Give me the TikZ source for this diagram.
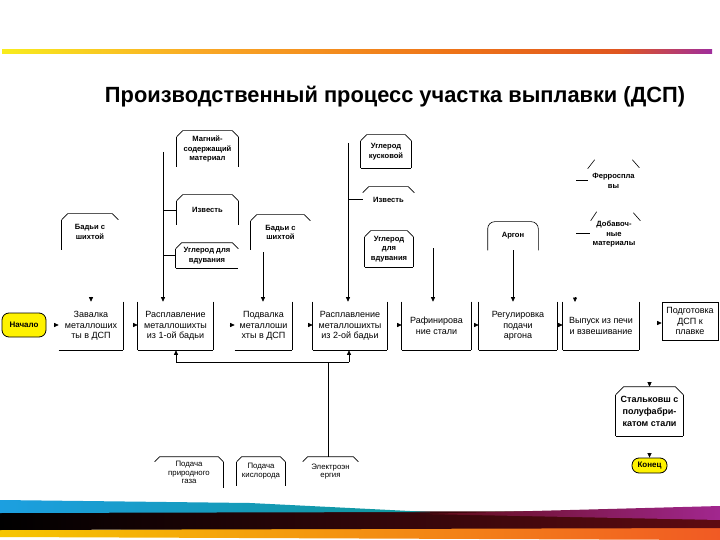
\documentclass[tikz,border=0pt]{standalone}
\usepackage{graphicx}
\usepackage{fontspec}
\setmainfont{Liberation Sans}
\usetikzlibrary{calc,arrows.meta}
\definecolor{tyel}{HTML}{FFF200}
\definecolor{gA}{HTML}{F8EC1E}
\definecolor{gB}{HTML}{F9A825}
\definecolor{gC}{HTML}{EE7418}
\definecolor{gD}{HTML}{E0561F}
\definecolor{gE}{HTML}{9F2D9C}
\definecolor{bBlue}{HTML}{1C9FE0}
\definecolor{bTeal}{HTML}{10979A}
\definecolor{bMar}{HTML}{5E0B12}
\definecolor{bPur}{HTML}{A2278F}
\definecolor{bYel}{HTML}{F6C600}
\definecolor{bOr}{HTML}{F15A24}
% helpers: box node from pixel extents
\newcommand\bx[7]{\node[#1, minimum width={#5-#3}, minimum height={#6-#4}] (#2) at ({(#3+#5)/2},{(#4+#6)/2}) {#7};}
\newcommand\TopC[2]{\draw ($(#1.north west)+(0,#2)$) -- ($(#1.north west)+(#2,0)$) -- ($(#1.north east)+(-#2,0)$) -- ($(#1.north east)+(0,#2)$);}
\newcommand\LeftC[2]{\draw ($(#1.north west)+(0,#2)$) -- (#1.south west);}
\newcommand\RightC[2]{\draw ($(#1.north east)+(0,#2)$) -- (#1.south east);}
\newcommand\BotS[1]{\draw (#1.south west) -- (#1.south east);}
\newcommand\PL[1]{\draw (#1.north west) -- (#1.south west);}
\newcommand\PR[1]{\draw (#1.north east) -- (#1.south east);}
\newcommand\HeadL[1]{\draw[arr] ($(#1.west)+(-5,-1)$) -- ($(#1.west)+(0,-1)$);}
\begin{document}
\begin{tikzpicture}[x=1pt,y=-1pt,line width=0.6pt,
  arr/.style={-{Triangle[length=4.5pt,width=4pt]}},
  proc/.style={inner sep=0pt,align=center,font=\fontsize{9}{10.5}\selectfont},
  mat/.style={inner sep=0pt,align=center,font=\bfseries\fontsize{7.6}{9.5}\selectfont},
  matr/.style={inner sep=0pt,align=center,font=\fontsize{7.8}{8.8}\selectfont},
  term/.style={draw,line width=0.8pt,fill=tyel,rounded corners=7pt,inner sep=0pt,align=center,font=\bfseries\fontsize{8}{9}\selectfont}]
\useasboundingbox (0,0) rectangle (720,540);
\fill[white] (0,0) rectangle (720,540);
% top gradient line
\shade[left color=gA,right color=gB] (2,50) rectangle (200,54);
\shade[left color=gB,right color=gC] (200,50) rectangle (450,54);
\shade[left color=gC,right color=gD] (450,50) rectangle (620,54);
\shade[left color=gD,right color=gE] (620,50) rectangle (712,54);
% title
\node[anchor=base,inner sep=0pt] (title) at (395,103) {\resizebox{580pt}{\height}{\bfseries\fontsize{22}{24}\selectfont Производственный процесс участка выплавки (ДСП)}};
% bottom band
\shade[left color=bYel,right color=bOr] (0,530) -- (720,527) -- (720,540) -- (0,537) -- cycle;
\shade[left color=black,middle color=black!95!bMar,right color=bMar] (0,512) -- (720,511) -- (720,528) -- (0,530) -- cycle;
\shade[left color=bBlue,right color=bTeal] (0,500) -- (250,503) -- (430,512) -- (0,513) -- cycle;
\shade[left color=bMar,right color=bPur] (420,514) -- (720,506) -- (720,520) -- cycle;
% terminals
\bx{term}{st}{2}{313}{46}{337}{Начало}
\bx{term}{ko}{632}{458}{667}{473}{Конец}
% process boxes
\bx{proc}{zv}{59}{302}{123}{350}{Завалка\\металлоших\\ты в ДСП}
\bx{proc}{r1}{138}{302}{213}{350}{Расплавление\\металлошихты\\из 1-ой бадьи}
\bx{proc}{pd}{235}{302}{292}{350}{Подвалка\\металлоши\\хты в ДСП}
\bx{proc}{r2}{313}{302}{387}{350}{Расплавление\\металлошихты\\из 2-ой бадьи}
\bx{proc}{rf}{402}{302}{471}{350}{Рафинирова\\ние стали}
\bx{proc}{rg}{479}{302}{557}{350}{Регулировка\\подачи\\аргона}
\bx{proc}{vy}{563}{302}{639}{350}{Выпуск из печи\\и взвешивание}
\bx{proc,draw}{pg}{662}{302}{718}{340}{Подготовка\\ДСП к\\плавке}
\PR{zv}\BotS{zv}
\PL{r1}\PR{r1}\BotS{r1}
\PR{pd}\BotS{pd}
\PL{r2}\PR{r2}\BotS{r2}
\PL{rf}\PR{rf}\BotS{rf}
\PL{rg}\PR{rg}\BotS{rg}
\PL{vy}\PR{vy}\BotS{vy}
% input materials
\bx{mat}{mg}{177}{131}{238}{167}{Магний-\\содержащий\\материал}
\TopC{mg}{6}\LeftC{mg}{6}\RightC{mg}{6}
\bx{mat}{iz1}{177}{195}{238}{225}{Известь}
\TopC{iz1}{6}\LeftC{iz1}{6}\RightC{iz1}{6}
\bx{mat}{ug1}{176}{243}{238}{268}{Углерод для\\вдувания}
\TopC{ug1}{6}\LeftC{ug1}{6}\BotS{ug1}
\bx{mat}{b1}{62}{214}{118}{250}{Бадьи с\\шихтой}
\TopC{b1}{6}\LeftC{b1}{6}
\bx{mat}{b2}{251}{215}{310}{250}{Бадьи с\\шихтой}
\TopC{b2}{6}\LeftC{b2}{6}
\bx{mat}{uk}{361}{135}{411}{168}{Углерод\\кусковой}
\TopC{uk}{6}\LeftC{uk}{6}\RightC{uk}{6}\BotS{uk}
\bx{mat}{iz2}{363}{187}{414}{212}{Известь}
\TopC{iz2}{6}
\bx{mat}{ug2}{365}{231}{413}{267}{Углерод\\для\\вдувания}
\TopC{ug2}{6}\LeftC{ug2}{6}\RightC{ug2}{6}\BotS{ug2}
\bx{mat}{ar}{488}{222}{538}{250}{Аргон}
\draw[rounded corners=7pt] (ar.south west) -- (ar.north west) -- (ar.north east) -- (ar.south east);
\bx{mat}{fe}{588}{160}{639}{202}{Ферроспла\\вы}
\draw ($(fe.north west)+(0,9)$) -- ($(fe.north west)+(7,0)$);
\draw ($(fe.north east)+(-7,0)$) -- ($(fe.north east)+(0,8)$);
\bx{mat}{do}{588}{212}{640}{257}{Добавоч-\\ные\\материалы}
\draw ($(do.north west)+(3,9)$) -- ($(do.north west)+(9,0)$);
\draw ($(do.north east)+(-7,1)$) -- ($(do.north east)+(0,9)$);
\bx{mat,font=\bfseries\fontsize{9}{12}\selectfont}{sk}{616}{387}{683}{436}{Стальковш с\\полуфабри-\\катом стали}
\TopC{sk}{8}\LeftC{sk}{8}\RightC{sk}{8}\BotS{sk}
\bx{matr}{gz}{155}{457}{223}{488}{Подача\\природного\\газа}
\TopC{gz}{5}\RightC{gz}{5}
\bx{matr}{ks}{237}{457}{285}{486}{Подача\\кислорода}
\TopC{ks}{5}\LeftC{ks}{5}\RightC{ks}{5}
\bx{matr}{el}{303}{457}{358}{486}{Электроэн\\ергия}
\TopC{el}{5}
% horizontal flow (heads only)
\HeadL{zv}\HeadL{r1}\HeadL{pd}\HeadL{r2}\HeadL{rf}\HeadL{rg}\HeadL{vy}
\draw[arr] ($(pg.west)+(-5,2)$) -- ($(pg.west)+(0,2)$);
\draw[arr] ($(zv.north)+(0,-5)$) -- (zv.north);
\coordinate (vyin) at (575,302);
\draw[arr] ($(vyin)+(0,-5)$) -- (vyin);
\draw[arr] ($(sk.north)+(0,-5)$) -- (sk.north);
\draw[arr] ($(ko.north)+(0,-5)$) -- (ko.north);
% left trunk
\coordinate (t1) at (163,152);
\draw[arr] (t1) -- (t1 |- r1.north);
\draw (iz1.west -| t1) -- (iz1.west);
\draw (ug1.west -| t1) -- (ug1.west);
% second trunk
\coordinate (t2) at (348,143);
\draw[arr] (t2) -- (t2 |- r2.north);
\draw (iz2.west -| t2) -- (iz2.west);
% badya 2 -> podvalka
\coordinate (t3) at (263,252);
\draw[arr] (t3) -- (t3 |- pd.north);
% to rafinirovanie
\coordinate (t4) at (433,248);
\draw[arr] (t4) -- (t4 |- rf.north);
% argon
\draw[arr] (ar.south) -- (ar.south |- rg.north);
% ferro / dobav short lines
\coordinate (f1) at (576,180);
\draw (f1) -- (f1 -| fe.west);
\coordinate (f2) at (576,233);
\draw (f2) -- ($(f2 -| do.west)+(2,0)$);
% bottom distribution
\coordinate (bl) at (176,362);
\coordinate (br) at (349,362);
\coordinate (be) at (328,362);
\draw (bl) -- (br);
\draw[arr] (bl) -- (bl |- r1.south);
\draw[arr] (br) -- (br |- r2.south);
\draw (be) -- (be |- el.north);
\end{tikzpicture}
\end{document}
